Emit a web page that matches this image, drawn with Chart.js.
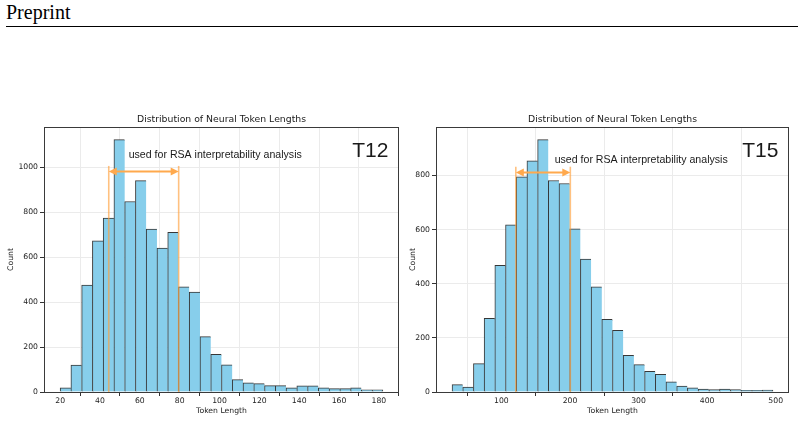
<!DOCTYPE html>
<html>
<head>
<meta charset="utf-8">
<script src="https://cdn.jsdelivr.net/npm/chart.js@4.4.1/dist/chart.umd.min.js"></script>
<style>
  body { margin: 0; background: #fff; width: 804px; height: 421px; position: relative; overflow: hidden; }
  #hdr { position: absolute; left: 6px; top: 1px; font: 20px 'Liberation Serif', serif; color: #000; }
  #rule { position: absolute; left: 6px; top: 26px; width: 792px; height: 1px; background: #000; }
  canvas { position: absolute; top: 110px; }
</style>
</head>
<body>
<div id="hdr">Preprint</div>
<div id="rule"></div>
<canvas id="c12" width="402" height="311" style="left:0"></canvas>
<canvas id="c15" width="402" height="311" style="left:402px"></canvas>
<script>
'use strict';

const TITLE = 'Distribution of Neural Token Lengths';
const NOTE = 'used for RSA interpretability analysis';

// T12 histogram
const T12_BIN_START = 20;
const T12_BIN_WIDTH = 5.4;
const T12_COUNTS = [18, 120, 475, 672, 773, 1122, 847, 940, 724, 640, 710, 468, 444, 246, 167,
  121, 55, 41, 37, 28, 28, 18, 27, 27, 19, 15, 15, 19, 10, 10];
const T12_XTICKS = [20, 40, 60, 80, 100, 120, 140, 160, 180];
const T12_YTICKS = [0, 200, 400, 600, 800, 1000];
const T12_RANGE = [44.4, 79.5];

// T15 histogram
const T15_BIN_START = 28;
const T15_BIN_WIDTH = 15.6;
const T15_COUNTS = [27, 18, 105, 272, 468, 617, 795, 854, 932, 781, 770, 603, 491, 388, 268,
  228, 135, 101, 76, 65, 38, 22, 15, 11, 9, 11, 9, 6, 6, 7];
const T15_XTICKS = [100, 200, 300, 400, 500];
const T15_YTICKS = [0, 200, 400, 600, 800];
const T15_RANGE = [121, 200.5];

const BAR = '#87CEEB';
const EDGE = 'rgba(20,20,20,0.85)';
const ORANGE_LINE = 'rgba(255,160,60,0.65)';
const ORANGE = '#FFA94D';

const rsaPlugin = {
  id: 'rsa',
  afterDatasetsDraw(chart, args, o) {
    const { ctx, scales: { x, y } } = chart;
    ctx.save();
    // span lines
    ctx.strokeStyle = ORANGE_LINE;
    ctx.lineWidth = 1.6;
    o.range.forEach(v => {
      const px = x.getPixelForValue(v);
      ctx.beginPath();
      ctx.moveTo(px, y.getPixelForValue(0));
      ctx.lineTo(px, y.getPixelForValue(o.lineTop));
      ctx.stroke();
    });
    // double arrow
    const x0 = x.getPixelForValue(o.range[0]);
    const x1 = x.getPixelForValue(o.range[1]);
    const ay = y.getPixelForValue(o.arrowY);
    ctx.strokeStyle = ORANGE;
    ctx.fillStyle = ORANGE;
    ctx.lineWidth = 2;
    ctx.beginPath();
    ctx.moveTo(x0 + 6, ay);
    ctx.lineTo(x1 - 6, ay);
    ctx.stroke();
    [[x0, 1], [x1, -1]].forEach(([px, d]) => {
      ctx.beginPath();
      ctx.moveTo(px, ay);
      ctx.lineTo(px + 8 * d, ay - 4);
      ctx.lineTo(px + 8 * d, ay + 4);
      ctx.closePath();
      ctx.fill();
    });
    // note text
    ctx.fillStyle = '#1a1a1a';
    ctx.font = '10.6px "Liberation Sans", Arial, sans-serif';
    ctx.textAlign = 'left';
    ctx.textBaseline = 'middle';
    ctx.fillText(NOTE, x.getPixelForValue(o.noteX), y.getPixelForValue(o.noteY));
    ctx.restore();
  },
  afterDraw(chart, args, o) {
    const { ctx, chartArea: a } = chart;
    ctx.save();
    // frame
    ctx.strokeStyle = '#3a3a3a';
    ctx.lineWidth = 1;
    ctx.strokeRect(Math.round(a.left) + 0.5, Math.round(a.top) + 0.5,
      Math.round(a.right - a.left) - 1, Math.round(a.bottom - a.top));
    // title
    ctx.fillStyle = '#1a1a1a';
    ctx.font = '9.3px "DejaVu Sans"';
    ctx.textAlign = 'center';
    ctx.textBaseline = 'alphabetic';
    ctx.fillText(TITLE, (a.left + a.right) / 2, a.top - 4.6);
    // tag
    ctx.font = '21px "Liberation Sans", Arial, sans-serif';
    ctx.textAlign = 'right';
    ctx.fillText(o.tag, a.left + 0.97 * (a.right - a.left), a.top + 30);
    ctx.restore();
  }
};

function makeHist(id, start, width, counts, xticks, yticks, yAxisWidth, padRight, rsa) {
  const end = start + width * counts.length;
  const span = end - start;
  const points = counts.map((c, i) => ({ x: start + width * (i + 0.5), y: c }));
  const last = counts.length - 1;
  const tickFont = { family: 'DejaVu Sans', size: 7.7 };
  new Chart(document.getElementById(id), {
    type: 'bar',
    data: {
      datasets: [{
        data: points,
        backgroundColor: BAR,
        borderColor: EDGE,
        borderWidth: ctx => ({ left: 1, top: 1, bottom: 0, right: ctx.dataIndex === last ? 1 : 0 }),
        borderSkipped: false,
        barPercentage: 1,
        categoryPercentage: 1,
      }],
    },
    options: {
      responsive: false,
      animation: false,
      layout: { padding: { top: 17, right: padRight, left: 0, bottom: 0 } },
      plugins: { legend: { display: false }, tooltip: { enabled: false }, rsa },
      scales: {
        x: {
          type: 'linear',
          min: start - 0.05 * span,
          max: end + 0.05 * span,
          offset: false,
          afterBuildTicks: s => { s.ticks = xticks.map(v => ({ value: v })); },
          afterFit: s => { s.height = 29; },
          grid: { color: '#ebebeb', tickColor: '#333', tickLength: 4 },
          border: { display: false },
          ticks: { font: tickFont, color: '#222', padding: 0, autoSkip: false, maxRotation: 0, callback: v => String(v) },
          title: { display: true, text: 'Token Length', font: tickFont, color: '#222', padding: { top: 0, bottom: 5 } },
        },
        y: {
          min: 0,
          max: Math.max(...counts) * 1.05,
          afterBuildTicks: s => { s.ticks = yticks.map(v => ({ value: v })); },
          afterFit: s => { s.width = yAxisWidth; },
          grid: { color: '#ebebeb', tickColor: '#333', tickLength: 4 },
          border: { display: false },
          ticks: { font: tickFont, color: '#222', padding: 2, callback: v => String(v) },
          title: { display: true, text: 'Count', font: tickFont, color: '#222', padding: { top: 6, bottom: 0 } },
        },
      },
    },
    plugins: [rsaPlugin],
  });
}

makeHist('c12', T12_BIN_START, T12_BIN_WIDTH, T12_COUNTS, T12_XTICKS, T12_YTICKS, 44, 3,
  { tag: 'T12', range: T12_RANGE, lineTop: 1005, arrowY: 980, noteX: 54.4, noteY: 1052 });
makeHist('c15', T15_BIN_START, T15_BIN_WIDTH, T15_COUNTS, T15_XTICKS, T15_YTICKS, 34, 15,
  { tag: 'T15', range: T15_RANGE, lineTop: 832, arrowY: 811, noteX: 177.6, noteY: 856 });
</script>
</body>
</html>
